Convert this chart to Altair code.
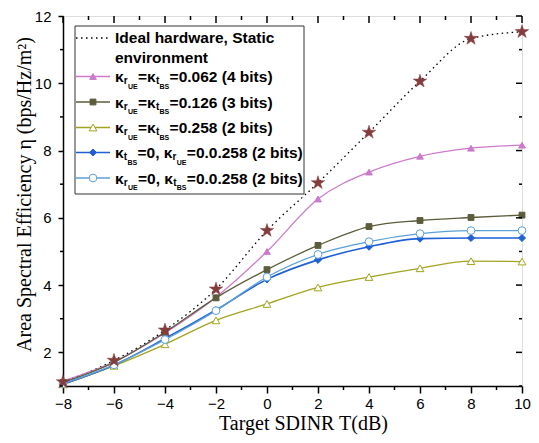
import altair as alt
import pandas as pd

# ---------------- data ----------------
T = [-8, -6, -4, -2, 0, 2, 4, 6, 8, 10]
ideal = [1.12, 1.76, 2.66, 3.88, 5.62, 7.04, 8.54, 10.06, 11.33, 11.53]
bits4 = [1.15, 1.72, 2.58, 3.64, 5.00, 6.56, 7.36, 7.83, 8.07, 8.16]
bits3 = [1.10, 1.70, 2.60, 3.62, 4.46, 5.18, 5.74, 5.92, 6.01, 6.08]
bits2 = [1.05, 1.60, 2.24, 2.95, 3.44, 3.93, 4.24, 4.50, 4.71, 4.70]
tbs0 = [1.05, 1.62, 2.41, 3.26, 4.17, 4.75, 5.14, 5.38, 5.40, 5.40]
rue0 = [1.07, 1.63, 2.38, 3.24, 4.24, 4.91, 5.29, 5.53, 5.62, 5.62]

x_major = [-8, -6, -4, -2, 0, 2, 4, 6, 8, 10]
x_minor = [-7, -5, -3, -1, 1, 3, 5, 7, 9]
y_major = [2, 4, 6, 8, 10, 12]
y_minor = [1, 3, 5, 7, 9, 11]

W, H = 459, 370
SANS = "Liberation Sans"
SERIF = "Liberation Serif"
STAR = ("M0,-1L0.2245,-0.309L0.951,-0.309L0.363,0.118L0.588,0.809L0,0.382"
        "L-0.588,0.809L-0.363,0.118L-0.951,-0.309L-0.2245,-0.309Z")

x_enc = alt.X("T:Q", scale=alt.Scale(domain=[-8, 10], nice=False, zero=False),
              axis=alt.Axis(values=x_major, title="Target SDINR T(dB)", grid=False,
                            tickSize=7, tickWidth=1.5, tickColor="black",
                            labelFont=SANS, labelFontSize=15, labelColor="black",
                            labelPadding=3, titleFont=SERIF, titleFontSize=20,
                            titleFontWeight="normal", titleColor="black",
                            titlePadding=2, titleX=240, domainColor="black", domainWidth=1.5,
                            labelFlush=False))
y_enc = alt.Y("v:Q", scale=alt.Scale(domain=[1, 12], nice=False, zero=False),
              axis=alt.Axis(values=y_major, title="Area Spectral Efficiency η (bps/Hz/m²)",
                            grid=False, tickSize=5, tickWidth=1.5, tickColor="black",
                            labelFont=SANS, labelFontSize=15, labelColor="black",
                            labelPadding=7, titleFont=SERIF, titleFontSize=20,
                            titleFontWeight="normal", titleColor="black",
                            titlePadding=0, titleY=178, domainColor="black", domainWidth=1.5,
                            labelFlush=False))

series = [
    # values, color, shape, size, dash, width, point fill
    (ideal, "black", None, 0, [1.5, 3.5], 1.3, None),
    (bits4, "#cc7acc", "triangle-up", 45, None, 1.3, "#cc7acc"),
    (bits3, "#5c5c3c", "square", 34, None, 1.3, "#5c5c3c"),
    (bits2, "#a3a320", "triangle-up", 60, None, 1.3, "white"),
    (tbs0, "#1f60d4", "diamond", 50, None, 1.6, "#1f60d4"),
    (rue0, "#5ba0d6", "circle", 60, None, 1.3, "white"),
]

layers = []
for vals, col, shp, sz, dash, sw, pf in series:
    df = pd.DataFrame({"T": T, "v": vals})
    lk = dict(color=col, strokeWidth=sw, interpolate="monotone")
    if dash:
        lk["strokeDash"] = dash
    layers.append(alt.Chart(df).mark_line(**lk).encode(x=x_enc, y=y_enc))
    if shp:
        layers.append(alt.Chart(df).mark_point(shape=shp, filled=True, fill=pf, stroke=col,
                                               strokeWidth=1, size=sz, opacity=1)
                      .encode(x=x_enc, y=y_enc))
# stars on ideal curve
layers.append(alt.Chart(pd.DataFrame({"T": T, "v": ideal})).mark_point(
    shape=STAR, filled=True, fill="#843c3c", stroke="#843c3c", strokeWidth=0.5,
    size=200, opacity=1).encode(x=x_enc, y=y_enc))

# mirror / minor ticks
xmaj = pd.DataFrame({"T": x_major})
xmin = pd.DataFrame({"T": x_minor})
ymaj = pd.DataFrame({"v": y_major})
ymin = pd.DataFrame({"v": y_minor})
rk = dict(color="black", strokeWidth=1.5)
layers += [
    alt.Chart(xmin).mark_rule(**rk).encode(x=x_enc, y=alt.value(H), y2=alt.value(H + 4)),
    alt.Chart(xmaj).mark_rule(**rk).encode(x=x_enc, y=alt.value(0), y2=alt.value(7)),
    alt.Chart(xmin).mark_rule(**rk).encode(x=x_enc, y=alt.value(0), y2=alt.value(4)),
    alt.Chart(ymin).mark_rule(**rk).encode(y=y_enc, x=alt.value(0), x2=alt.value(-3)),
    alt.Chart(ymaj).mark_rule(**rk).encode(y=y_enc, x=alt.value(W), x2=alt.value(W - 6)),
    alt.Chart(ymin).mark_rule(**rk).encode(y=y_enc, x=alt.value(W), x2=alt.value(W - 3)),
]

# ---------------- legend ----------------
one = pd.DataFrame({"k": [0]})
PL, PT = 55, 8
OX, OY = 8 + PL, 8 + PT  # page position of plot origin
layers.append(alt.Chart(one).mark_rect(fill="white", stroke="#333333", strokeWidth=1).encode(
    x=alt.value(75 - OX), x2=alt.value(304 - OX), y=alt.value(26 - OY), y2=alt.value(194 - OY)))

def txt(t, px, py, size):
    return alt.Chart(one).mark_text(align="left", baseline="middle", font=SANS,
                                    fontWeight="bold", fontSize=size, color="black").encode(
        x=alt.value(px - OX), y=alt.value(py - OY), text=alt.value(t))

# approximate advance widths (em) of Arial/Liberation Sans Bold
ADV = {"κ": 0.57, "r": 0.389, "U": 0.722, "E": 0.667, "t": 0.333, "B": 0.722, "S": 0.667,
       "=": 0.584, ".": 0.278, ",": 0.278, " ": 0.278, "(": 0.333, ")": 0.333,
       "b": 0.611, "i": 0.278, "s": 0.556}

def width(s, size):
    return sum(ADV.get(c, 0.556) for c in s) * size

SZ = [15.5, 10, 7]
OFF = [0, 4, 9.5]
LX0, LX1, MX, TX = 76, 110, 93, 115

layers.append(alt.Chart(one).mark_rule(color="black", strokeWidth=1.3, strokeDash=[1.5, 3.5]).encode(
    x=alt.value(LX0 - OX), x2=alt.value(LX1 - OX), y=alt.value(38 - OY)))
layers.append(txt("Ideal hardware, Static", TX, 38, SZ[0]))
layers.append(txt("environment", TX, 58, SZ[0]))

def eq_row(a, b, c, d, val):
    return [("κ", 0), (a, 1), (b, 2), ("=", 0), ("κ", 0), (c, 1), (d, 2), (val, 0)]

def zero_row(a, b, c, d, val):
    return [("κ", 0), (a, 1), (b, 2), ("=0, ", 0), ("κ", 0), (c, 1), (d, 2), (val, 0)]

rows = [
    (77, series[1], eq_row("r", "UE", "t", "BS", "=0.062 (4 bits)")),
    (102.5, series[2], eq_row("r", "UE", "t", "BS", "=0.126 (3 bits)")),
    (128, series[3], eq_row("r", "UE", "t", "BS", "=0.258 (2 bits)")),
    (153, series[4], zero_row("t", "BS", "r", "UE", "=0.0.258 (2 bits)")),
    (178.5, series[5], zero_row("r", "UE", "t", "BS", "=0.0.258 (2 bits)")),
]
for ry, s, pieces in rows:
    vals, col, shp, sz, dash, sw, pf = s
    layers.append(alt.Chart(one).mark_rule(color=col, strokeWidth=sw).encode(
        x=alt.value(LX0 - OX), x2=alt.value(LX1 - OX), y=alt.value(ry - 0.5 - OY)))
    layers.append(alt.Chart(one).mark_point(shape=shp, filled=True, fill=pf, stroke=col,
                                            strokeWidth=1, size=sz, opacity=1).encode(
        x=alt.value(MX - OX), y=alt.value(ry - 0.5 - OY)))
    px = float(TX)
    for t, lvl in pieces:
        layers.append(txt(t, px, ry + OFF[lvl], SZ[lvl]))
        px += width(t, SZ[lvl]) + (0.3 if lvl else 0)

chart = alt.layer(*layers).properties(
    width=W, height=H,
    autosize=alt.AutoSizeParams(type="none"),
    padding={"left": PL, "top": PT, "right": 9, "bottom": 49},
).configure_view(stroke="black", strokeWidth=1.5).configure(background="white")

chart.save("out.html", embed_options={"renderer": "svg", "actions": False})
